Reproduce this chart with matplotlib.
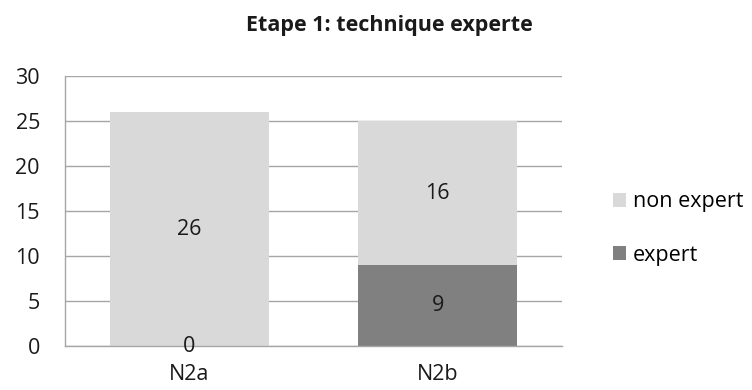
import matplotlib.pyplot as plt
import numpy as np

plt.rcParams['font.family'] = ['Open Sans', 'DejaVu Sans']

categories = ["N2a", "N2b"]
expert = [0, 9]
non_expert = [26, 16]

light = "#d9d9d9"
dark = "#808080"
grid = "#a6a6a6"
txt = "#1a1a1a"

fig = plt.figure(figsize=(7.52, 3.9), dpi=100)
ax = fig.add_axes([0.0864, 0.1128, 0.661, 0.692])

x = np.arange(len(categories))
w = 0.64
b1 = ax.bar(x, expert, w, color=dark, label="expert", zorder=2)
b2 = ax.bar(x, non_expert, w, bottom=expert, color=light, label="non expert", zorder=2)

# value labels centred in each segment
for xi, e, n in zip(x, expert, non_expert):
    ax.text(xi, e / 2, str(e), ha="center", va="center", fontsize=15.5, color=txt, zorder=3)
    ax.text(xi, e + n / 2, str(n), ha="center", va="center", fontsize=15.5, color=txt, zorder=3)

ax.set_xlim(-0.5, 1.5)
ax.set_ylim(0, 30)
ax.set_yticks(range(0, 31, 5))
ax.set_xticks(x)
ax.set_xticklabels(categories)
ax.tick_params(length=0, labelsize=15.5, colors=txt)
ax.tick_params(axis="y", pad=18)
ax.tick_params(axis="x", pad=13)
ax.yaxis.grid(True, color=grid, linewidth=1, zorder=0)
for s in ["top", "right"]:
    ax.spines[s].set_visible(False)
for s in ["left", "bottom"]:
    ax.spines[s].set_color(grid)
    ax.spines[s].set_linewidth(1)

fig.text(0.518, 0.934, "Etape 1: technique experte", ha="center", va="center",
         fontsize=15.5, fontweight="bold", color=txt)

handles = [b2, b1]
fig.legend(handles, ["non expert", "expert"], loc="center left",
           bbox_to_anchor=(0.815, 0.414), frameon=False, fontsize=15.5,
           borderpad=0, borderaxespad=0,
           handlelength=0.63, handleheight=0.63, handletextpad=0.3, labelspacing=1.5)

fig.savefig("out.png", dpi=100)
